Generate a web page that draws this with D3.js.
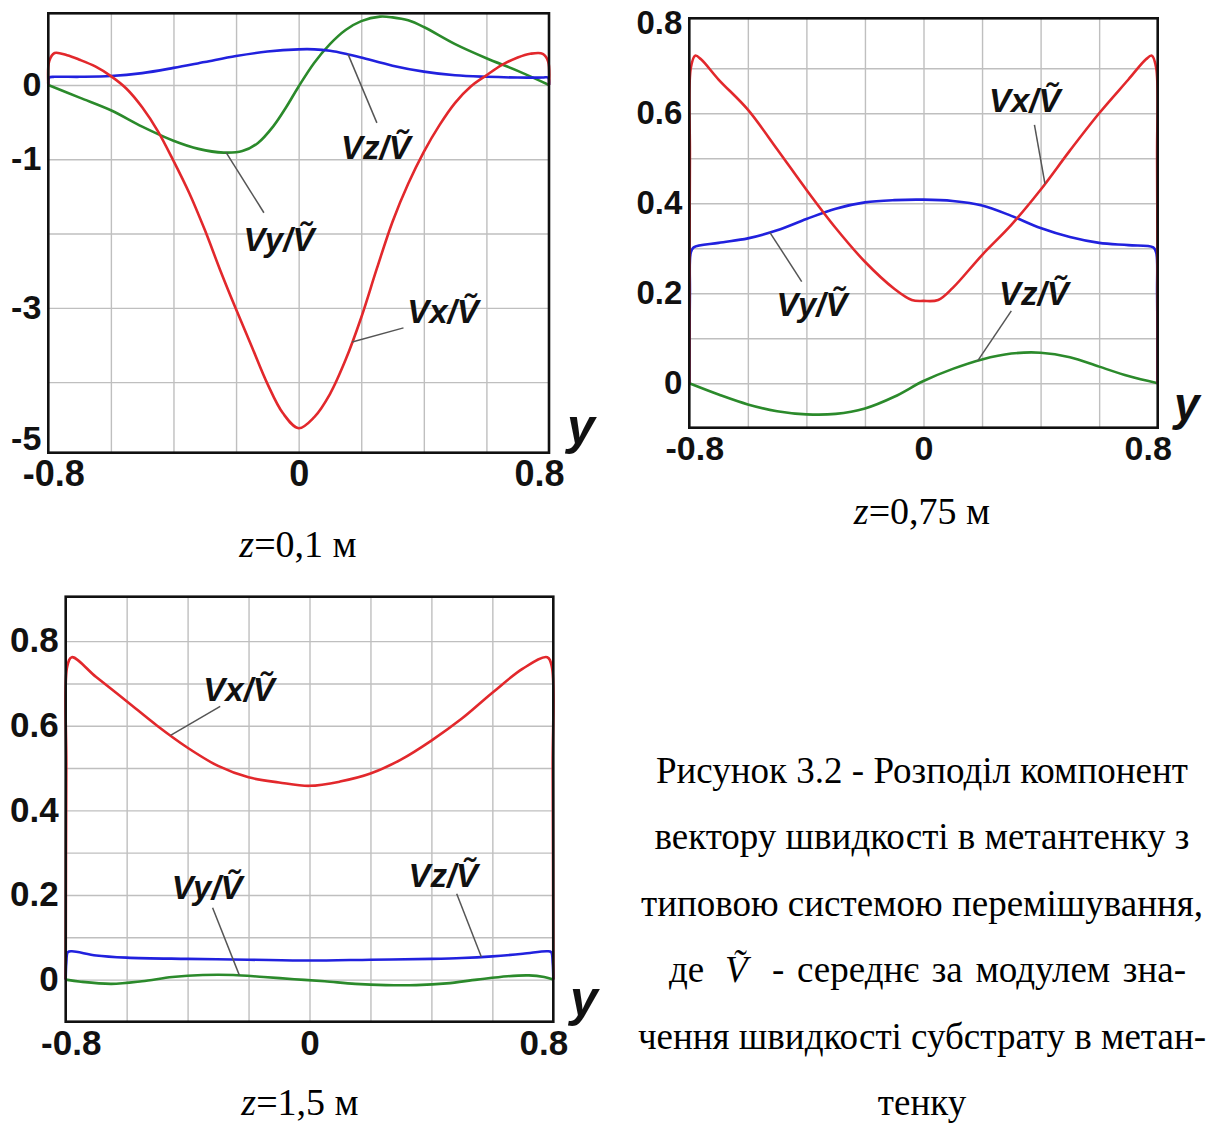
<!DOCTYPE html>
<html><head><meta charset="utf-8">
<script src="https://cdn.jsdelivr.net/npm/d3@7"></script>
<style>
html,body{margin:0;padding:0;background:#fff;}
svg{display:block;}
.tick text{font-family:"Liberation Sans",Arial,sans-serif;font-weight:bold;fill:#111;}
</style></head>
<body>
<svg id="fig" width="1206" height="1124"></svg>
<script>
// ---------- DATA ----------
const xLabelTicks = [-0.8, 0, 0.8];
const xGridTicks = [-0.6, -0.4, -0.2, 0, 0.2, 0.4, 0.6];

// Panel 1: z = 0.1 m
const p1Labels = [0, -1, -3, -5];
const p1Grid = [-4, -3, -2, -1, 0];
const p1Vx = [[-0.8,0],[-0.797,0.32],[-0.78,0.43],[-0.74,0.4],[-0.7,0.34],[-0.65,0.25],[-0.6,0.12],[-0.55,-0.05],[-0.5,-0.3],[-0.45,-0.62],[-0.4,-1.02],[-0.35,-1.45],[-0.3,-1.95],[-0.25,-2.5],[-0.2,-3.02],[-0.15,-3.52],[-0.1,-4.02],[-0.05,-4.42],[0,-4.62],[0.05,-4.47],[0.1,-4.16],[0.15,-3.7],[0.2,-3.13],[0.25,-2.47],[0.3,-1.84],[0.35,-1.33],[0.4,-0.9],[0.45,-0.54],[0.5,-0.24],[0.55,-0.02],[0.6,0.13],[0.65,0.27],[0.7,0.37],[0.74,0.42],[0.78,0.42],[0.797,0.32],[0.8,0]];
const p1Vy = [[-0.8,0],[-0.7,-0.17],[-0.6,-0.34],[-0.5,-0.56],[-0.4,-0.75],[-0.32,-0.86],[-0.24,-0.91],[-0.18,-0.89],[-0.13,-0.78],[-0.08,-0.55],[-0.04,-0.3],[0,-0.02],[0.05,0.3],[0.1,0.55],[0.15,0.74],[0.2,0.86],[0.26,0.92],[0.3,0.91],[0.35,0.87],[0.4,0.78],[0.5,0.55],[0.6,0.36],[0.7,0.19],[0.8,0]];
const p1Vz = [[-0.8,0],[-0.797,0.1],[-0.78,0.11],[-0.7,0.11],[-0.6,0.12],[-0.5,0.16],[-0.4,0.23],[-0.3,0.31],[-0.2,0.39],[-0.1,0.45],[0,0.48],[0.05,0.48],[0.1,0.46],[0.15,0.42],[0.2,0.37],[0.3,0.26],[0.4,0.18],[0.5,0.13],[0.6,0.11],[0.7,0.1],[0.78,0.1],[0.797,0.1],[0.8,0]];

// Panel 2: z = 0.75 m
const p2Labels = [0, 0.2, 0.4, 0.6, 0.8];
const p2Grid = [0, 0.1, 0.2, 0.3, 0.4, 0.5, 0.6, 0.7];
const p2Vx = [[-0.8,0],[-0.798,0.5],[-0.795,0.7],[-0.78,0.728],[-0.76,0.72],[-0.7,0.675],[-0.6,0.608],[-0.5,0.52],[-0.4,0.43],[-0.3,0.345],[-0.2,0.27],[-0.1,0.21],[-0.04,0.185],[0,0.183],[0.05,0.185],[0.1,0.212],[0.2,0.285],[0.3,0.352],[0.4,0.43],[0.5,0.517],[0.6,0.6],[0.7,0.675],[0.76,0.72],[0.78,0.728],[0.795,0.7],[0.798,0.5],[0.8,0]];
const p2Vy = [[-0.8,0],[-0.798,0.2],[-0.795,0.29],[-0.785,0.302],[-0.7,0.312],[-0.6,0.322],[-0.5,0.34],[-0.4,0.365],[-0.3,0.388],[-0.2,0.402],[-0.1,0.407],[0,0.408],[0.1,0.405],[0.2,0.395],[0.3,0.372],[0.4,0.345],[0.5,0.325],[0.6,0.312],[0.7,0.307],[0.785,0.302],[0.795,0.29],[0.798,0.2],[0.8,0]];
const p2Vz = [[-0.8,0],[-0.7,-0.025],[-0.6,-0.047],[-0.5,-0.062],[-0.4,-0.069],[-0.3,-0.068],[-0.2,-0.056],[-0.1,-0.03],[0,0.005],[0.1,0.032],[0.2,0.053],[0.3,0.066],[0.4,0.068],[0.5,0.058],[0.6,0.037],[0.7,0.016],[0.8,0]];

// Panel 3: z = 1.5 m
const p3Labels = [0, 0.2, 0.4, 0.6, 0.8];
const p3Grid = [0, 0.1, 0.2, 0.3, 0.4, 0.5, 0.6, 0.7, 0.8];
const p3Vx = [[-0.8,0],[-0.798,0.5],[-0.795,0.74],[-0.78,0.762],[-0.7,0.715],[-0.6,0.658],[-0.5,0.6],[-0.4,0.548],[-0.3,0.505],[-0.2,0.478],[-0.1,0.466],[0,0.458],[0.1,0.468],[0.2,0.487],[0.3,0.52],[0.4,0.565],[0.5,0.617],[0.6,0.678],[0.7,0.735],[0.78,0.762],[0.795,0.74],[0.798,0.5],[0.8,0]];
const p3Vy = [[-0.8,0],[-0.75,-0.005],[-0.65,-0.01],[-0.55,-0.004],[-0.45,0.006],[-0.35,0.011],[-0.25,0.011],[-0.15,0.006],[-0.05,0.001],[0.05,-0.004],[0.15,-0.01],[0.25,-0.013],[0.35,-0.013],[0.45,-0.009],[0.55,0],[0.65,0.008],[0.72,0.01],[0.77,0.006],[0.8,0]];
const p3Vz = [[-0.8,0],[-0.798,0.04],[-0.793,0.065],[-0.78,0.067],[-0.7,0.057],[-0.6,0.052],[-0.4,0.049],[-0.2,0.047],[0,0.045],[0.2,0.047],[0.4,0.049],[0.5,0.051],[0.6,0.055],[0.7,0.061],[0.78,0.067],[0.793,0.065],[0.798,0.04],[0.8,0]];

const subCaptions = ["0,1 м", "0,75 м", "1,5 м"];
const captionLines = [
  "Рисунок 3.2 - Розподіл компонент",
  "вектору швидкості в метантенку з",
  "типовою системою перемішування,",
  null,
  "чення швидкості субстрату в метан-",
  "тенку"
];
const captionLine4 = ["де", "Ṽ", "- середнє за модулем зна-"];

// ---------- STYLE / LAYOUT ----------
const RED = "#e2282c", BLUE = "#2121de", GREEN = "#2b8a2b";
const svg = d3.select("#fig");
svg.append("rect").attr("width",1206).attr("height",1124).attr("fill","#fff");

const panels = [
  {box:[48.3,549,13.3,452.7], yDom:[-4.95,0.965], labels:p1Labels, grid:p1Grid,
   series:[{d:p1Vx,c:RED,n:"x"},{d:p1Vz,c:BLUE,n:"z"},{d:p1Vy,c:GREEN,n:"y"}],
   ann:[{n:"z",lx:0.247,lv:-0.85,sx:0.25,sv:-0.51,tx:0.158},
        {n:"y",lx:-0.063,lv:-2.09,sx:-0.111,sv:-1.72,tx:-0.232},
        {n:"x",lx:0.461,lv:-3.055,sx:0.335,sv:-3.27,tx:0.171}],
   fs:34, fsx:36, cap:{t:subCaptions[0],x:298,y:557}, ylab:[567,444], yfs:50},
  {box:[689.3,1157.7,18.3,427.7], yDom:[-0.0987,0.811], labels:p2Labels, grid:p2Grid,
   series:[{d:p2Vx,c:RED,n:"x"},{d:p2Vy,c:BLUE,n:"y"},{d:p2Vz,c:GREEN,n:"z"}],
   ann:[{n:"x",lx:0.3457,lv:0.627,sx:0.379,sv:0.574,tx:0.415},
        {n:"y",lx:-0.381,lv:0.174,sx:-0.416,sv:0.226,tx:-0.525},
        {n:"z",lx:0.377,lv:0.198,sx:0.3,sv:0.161,tx:0.185}],
   fs:33, fsx:34, cap:{t:subCaptions[1],x:922,y:524}, ylab:[1174,420], yfs:46},
  {box:[65.7,553.3,596.7,1021.7], yDom:[-0.0995,0.905], labels:p3Labels, grid:p3Grid,
   series:[{d:p3Vx,c:RED,n:"x"},{d:p3Vz,c:BLUE,n:"z"},{d:p3Vy,c:GREEN,n:"y"}],
   ann:[{n:"x",lx:-0.231,lv:0.684,sx:-0.293,sv:0.646,tx:-0.456},
        {n:"y",lx:-0.336,lv:0.216,sx:-0.318,sv:0.17,tx:-0.23},
        {n:"z",lx:0.439,lv:0.246,sx:0.483,sv:0.203,tx:0.564}],
   fs:35, fsx:35, cap:{t:subCaptions[2],x:300,y:1115}, ylab:[570,1016], yfs:50}
];

function interp(data, x){
  for(let i=1;i<data.length;i++){
    if(data[i][0]>=x){const a=data[i-1],b=data[i];const t=(x-a[0])/(b[0]-a[0]);return a[1]+t*(b[1]-a[1]);}
  }
  return data[data.length-1][1];
}

panels.forEach((p,pi)=>{
  const [x0,x1,y0,y1]=p.box;
  const x=d3.scaleLinear().domain([-0.8,0.8]).range([x0,x1]);
  const y=d3.scaleLinear().domain(p.yDom).range([y1,y0]);
  const g=svg.append("g");
  g.append("g").attr("transform",`translate(0,${y1})`)
    .call(d3.axisBottom(x).tickValues(xGridTicks).tickSize(-(y1-y0)).tickFormat(""))
    .call(s=>{s.select(".domain").remove();s.selectAll("line").attr("stroke","#bfbfbf").attr("stroke-width",1.4);});
  g.append("g").attr("transform",`translate(${x0},0)`)
    .call(d3.axisLeft(y).tickValues(p.grid).tickSize(-(x1-x0)).tickFormat(""))
    .call(s=>{s.select(".domain").remove();s.selectAll("line").attr("stroke","#bfbfbf").attr("stroke-width",1.4);});
  const clipId="clip"+pi;
  svg.append("clipPath").attr("id",clipId).append("rect").attr("x",x0-2).attr("y",y0).attr("width",x1-x0+4).attr("height",y1-y0);
  const line=d3.line().x(d=>x(d[0])).y(d=>y(d[1])).curve(d3.curveCatmullRom.alpha(0.5));
  const cg=g.append("g").attr("clip-path",`url(#${clipId})`);
  [...p.series].reverse().forEach(s=>{
    cg.append("path").attr("d",line(s.d)).attr("fill","none").attr("stroke",s.c).attr("stroke-width",2.6).attr("stroke-linejoin","round");
  });
  g.append("rect").attr("x",x0).attr("y",y0).attr("width",x1-x0).attr("height",y1-y0)
    .attr("fill","none").attr("stroke","#111").attr("stroke-width",2.6);
  const ya=g.append("g").attr("transform",`translate(${x0},0)`)
    .call(d3.axisLeft(y).tickValues(p.labels).tickSize(0).tickPadding(7).tickFormat(d=>String(d)));
  ya.select(".domain").remove();
  ya.selectAll("text").style("font-size",p.fs+"px");
  ya.selectAll(".tick").attr("transform",d=>`translate(0,${Math.min(y(d),y1-14)})`);
  const xa=g.append("g").attr("transform",`translate(0,${y1})`)
    .call(d3.axisBottom(x).tickValues(xLabelTicks).tickSize(0).tickPadding(8).tickFormat(d=>String(d)));
  xa.select(".domain").remove();
  xa.selectAll("text").style("font-size",p.fsx+"px")
    .attr("dx",d=>d<0?5:(d>0?-10:0));
  g.append("text").attr("x",p.ylab[0]).attr("y",p.ylab[1]).text("y")
    .attr("font-family","Liberation Sans, Arial, sans-serif").attr("font-weight","bold").attr("font-style","italic")
    .attr("font-size",p.yfs).attr("fill","#111");
  p.ann.forEach(a=>{
    const s=p.series.find(q=>q.n===a.n);
    g.append("line").attr("x1",x(a.sx)).attr("y1",y(a.sv)).attr("x2",x(a.tx)).attr("y2",y(interp(s.d,a.tx)))
      .attr("stroke","#555").attr("stroke-width",1.5);
    g.append("text").attr("x",x(a.lx)).attr("y",y(a.lv)+11).attr("text-anchor","middle")
      .attr("font-family","Liberation Sans, Arial, sans-serif").attr("font-weight","bold").attr("font-style","italic")
      .attr("font-size",33).attr("fill","#111").text("V"+a.n+"/Ṽ");
  });
  const t=svg.append("text").attr("x",p.cap.x).attr("y",p.cap.y).attr("text-anchor","middle")
    .attr("font-family","Liberation Serif, Times New Roman, serif").attr("font-size",38).attr("fill","#000");
  t.append("tspan").attr("font-style","italic").text("z");
  t.append("tspan").text("="+p.cap.t);
});

// figure caption
const capY0=783, capDY=66.4;
const serif="Liberation Serif, Times New Roman, serif";
captionLines.forEach((l,i)=>{
  const yy=capY0+i*capDY;
  if(l!==null){
    svg.append("text").attr("x",922).attr("y",yy).attr("text-anchor","middle")
      .attr("font-family",serif).attr("font-size",37).attr("fill","#000").text(l);
  } else {
    svg.append("text").attr("x",669).attr("y",yy).attr("font-family",serif).attr("font-size",37).attr("fill","#000").text(captionLine4[0]);
    svg.append("text").attr("x",725).attr("y",yy).attr("font-family",serif).attr("font-size",37).attr("font-style","italic").attr("fill","#000").text(captionLine4[1]);
    const rest=svg.append("text").attr("x",772).attr("y",yy).attr("font-family",serif).attr("font-size",37).attr("fill","#000").text(captionLine4[2]);
    const nat=rest.node().getComputedTextLength();
    const gaps=(captionLine4[2].match(/ /g)||[]).length;
    const ws=Math.max(0,Math.min(5,(1186-772-nat)/gaps));
    rest.style("word-spacing",ws+"px");
  }
});
</script>
</body></html>
